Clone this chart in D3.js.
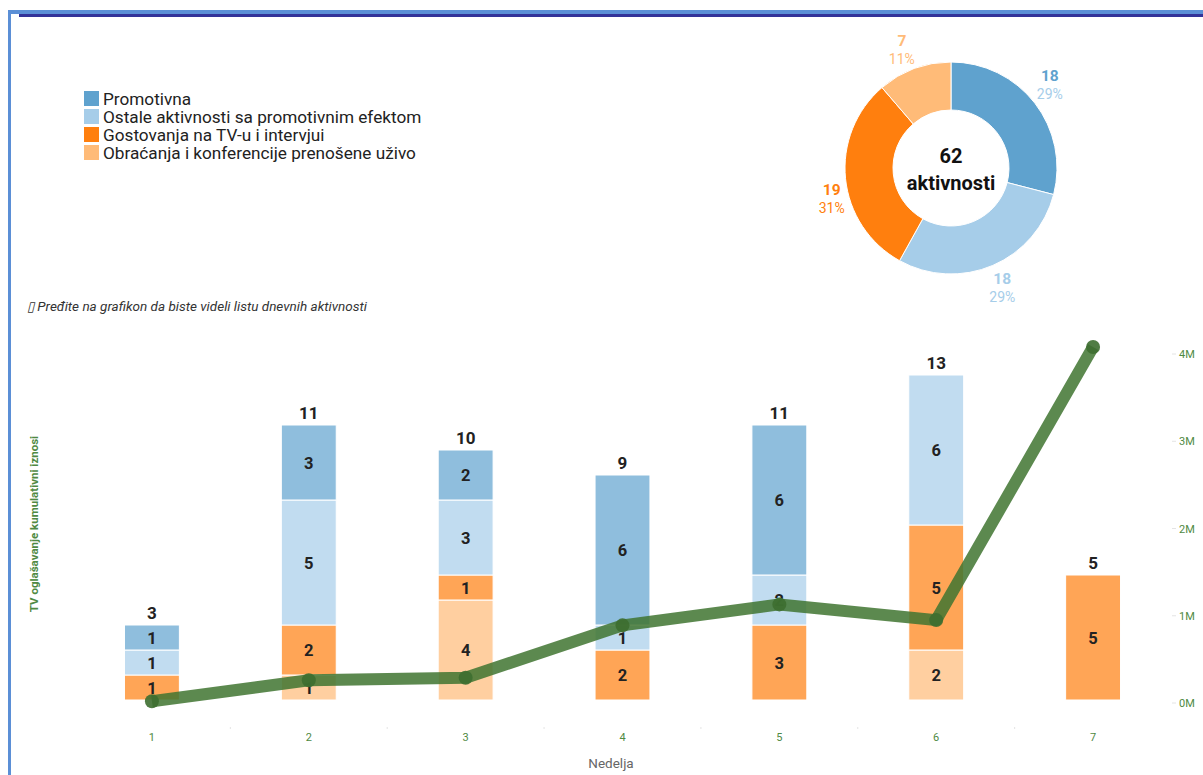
<!DOCTYPE html>
<html><head><meta charset="utf-8">
<script src="https://cdn.jsdelivr.net/npm/d3@7"></script>
<style>
body{margin:0;background:#fff;}
svg{display:block;font-family:Roboto,"Noto Sans",sans-serif;}
</style></head>
<body>
<svg id="c" width="1203" height="775"></svg>
<script>
const weeks = ["1","2","3","4","5","6","7"];
const seriesNames = ["Promotivna","Ostale aktivnosti sa promotivnim efektom","Gostovanja na TV-u i intervjui","Obraćanja i konferencije prenošene uživo"];
const seriesColors = ["#5fa2ce","#a6cde9","#ff7f0e","#ffbb78"];
const promotivna = [1,3,2,6,6,0,0];
const ostale = [1,5,3,1,2,6,0];
const gostovanja = [1,2,1,2,3,5,5];
const obracanja = [0,1,4,0,0,2,0];
const tvCumulative = [0.02e6,0.26e6,0.29e6,0.89e6,1.13e6,0.95e6,4.08e6];
const rightTicks = [0,1e6,2e6,3e6,4e6];
const donutCenterLine1 = "62";
const donutCenterLine2 = "aktivnosti";
const noteText = "\u25AF Pređite na grafikon da biste videli listu dnevnih aktivnosti";
const leftAxisTitle = "TV oglašavanje kumulativni iznosi";
const xAxisTitle = "Nedelja";

const svg = d3.select("#c");

// frame
svg.append("rect").attr("x",8).attr("y",10).attr("width",1195).attr("height",4).attr("fill","#5b8fd6");
svg.append("rect").attr("x",19).attr("y",14).attr("width",1184).attr("height",3).attr("fill","#333399");
svg.append("rect").attr("x",8).attr("y",10).attr("width",3).attr("height",765).attr("fill","#5b8fd6");

// legend
const lg = svg.append("g");
seriesNames.forEach((n,i)=>{
  const y = 91 + i*18;
  lg.append("rect").attr("x",84).attr("y",y).attr("width",15).attr("height",15).attr("fill",seriesColors[i]);
  lg.append("text").attr("x",103).attr("y",y+14).attr("font-size",17.2).attr("fill","#222").text(n);
});

// donut
const totals = [d3.sum(promotivna),d3.sum(ostale),d3.sum(gostovanja),d3.sum(obracanja)];
const grand = d3.sum(totals);
const cx = 951, cy = 168;
const pie = d3.pie().sort(null).value(d=>d)(totals);
const arc = d3.arc().innerRadius(58).outerRadius(106);
const labelNudge = [[-4,-4],[0,0],[10,17],[-4,3]];
const dg = svg.append("g").attr("transform",`translate(${cx},${cy})`);
dg.selectAll("path").data(pie).enter().append("path")
  .attr("d",arc).attr("fill",(d,i)=>seriesColors[i]).attr("stroke","#fff").attr("stroke-width",1);
pie.forEach((d,i)=>{
  const a = (d.startAngle+d.endAngle)/2;
  const r = 130;
  const x = Math.sin(a)*r + labelNudge[i][0], y = -Math.cos(a)*r + labelNudge[i][1];
  const col = seriesColors[i];
  dg.append("text").attr("x",x).attr("y",y-3).attr("text-anchor","middle").attr("font-size",15.5).attr("font-weight","bold").attr("fill",col).text(d.data);
  dg.append("text").attr("x",x).attr("y",y+15).attr("text-anchor","middle").attr("font-size",14).attr("fill",i===0?"#a6cde9":col).text(Math.round(d.data/grand*100)+"%");
});
dg.append("text").attr("x",0).attr("y",-5).attr("text-anchor","middle").attr("font-size",20).attr("font-weight","bold").attr("fill","#111").text(donutCenterLine1);
dg.append("text").attr("x",0).attr("y",22).attr("text-anchor","middle").attr("font-size",20).attr("font-weight","bold").attr("fill","#111").text(donutCenterLine2);

// note
svg.append("text").attr("x",27).attr("y",311).attr("font-size",13.5).attr("font-style","italic").attr("fill","#333").text(noteText);

// scales
const x = d3.scaleBand().domain(weeks).range([73.5,1171.5]).paddingInner(0.65).paddingOuter(0.325);
const y = d3.scaleLinear().domain([0,14]).range([700,350]);
const y2 = d3.scaleLinear().domain([0,4e6]).range([703,354]);

// stacked bars (bottom to top)
const stackOrder = [3,2,1,0];
const seriesData = [promotivna,ostale,gostovanja,obracanja];
const rows = weeks.map((w,i)=>{const o={week:w}; seriesData.forEach((s,k)=>o["s"+k]=s[i]); return o;});
const stack = d3.stack().keys(stackOrder.map(k=>"s"+k))(rows);
const bg = svg.append("g");
stack.forEach(layer=>{
  const k = +layer.key.slice(1);
  layer.forEach(d=>{
    const v = d[1]-d[0];
    if(v<=0) return;
    bg.append("rect").attr("x",x(d.data.week)).attr("width",x.bandwidth())
      .attr("y",y(d[1])).attr("height",y(d[0])-y(d[1]))
      .attr("fill",seriesColors[k]).attr("fill-opacity",0.7)
      .attr("stroke","#fff").attr("stroke-width",1);
    bg.append("text").attr("x",x(d.data.week)+x.bandwidth()/2).attr("y",(y(d[0])+y(d[1]))/2+6)
      .attr("text-anchor","middle").attr("font-size",16.5).attr("font-weight","bold").attr("fill","#222").text(v);
  });
});
rows.forEach((r,i)=>{
  const t = promotivna[i]+ostale[i]+gostovanja[i]+obracanja[i];
  bg.append("text").attr("x",x(r.week)+x.bandwidth()/2).attr("y",y(t)-6)
    .attr("text-anchor","middle").attr("font-size",17).attr("font-weight","bold").attr("fill","#222").text(t);
});

// x axis
const xa = svg.append("g").attr("transform","translate(0,727)");
weeks.forEach((w,i)=>{
  if(i>0){ const bx = x(w) - x.step()*x.paddingInner()/2; xa.append("line").attr("x1",bx).attr("x2",bx).attr("y1",0).attr("y2",2).attr("stroke","#e4e4e4"); }
  xa.append("text").attr("x",x(w)+x.bandwidth()/2).attr("y",14).attr("text-anchor","middle").attr("font-size",11).attr("fill","#4f8a43").text(w);
});
svg.append("text").attr("x",611).attr("y",768).attr("text-anchor","middle").attr("font-size",13.5).attr("fill","#666").text(xAxisTitle);

// right axis
const ra = svg.append("g").attr("transform","translate(1172,0)");
rightTicks.forEach(t=>{
  ra.append("line").attr("x1",0).attr("x2",4).attr("y1",y2(t)).attr("y2",y2(t)).attr("stroke","#e4e4e4");
  ra.append("text").attr("x",7).attr("y",y2(t)+4).attr("font-size",11).attr("fill","#4f8a43").text(d3.format("d")(t/1e6)+"M");
});

// left axis title
svg.append("text").attr("transform","translate(38,524) rotate(-90)").attr("text-anchor","middle")
  .attr("font-size",11.5).attr("font-weight","bold").attr("fill","#4f8a43").text(leftAxisTitle);

// line
const line = d3.line().x((d,i)=>x(weeks[i])+x.bandwidth()/2).y(d=>y2(d));
svg.append("path").datum(tvCumulative).attr("d",line).attr("fill","none")
  .attr("stroke","#3f7430").attr("stroke-opacity",0.85).attr("stroke-width",12).attr("stroke-linejoin","round");
svg.selectAll("circle.p").data(tvCumulative).enter().append("circle")
  .attr("cx",(d,i)=>x(weeks[i])+x.bandwidth()/2).attr("cy",d=>y2(d)).attr("r",7).attr("fill","#3d6e30").attr("fill-opacity",0.9);
</script>
</body></html>
